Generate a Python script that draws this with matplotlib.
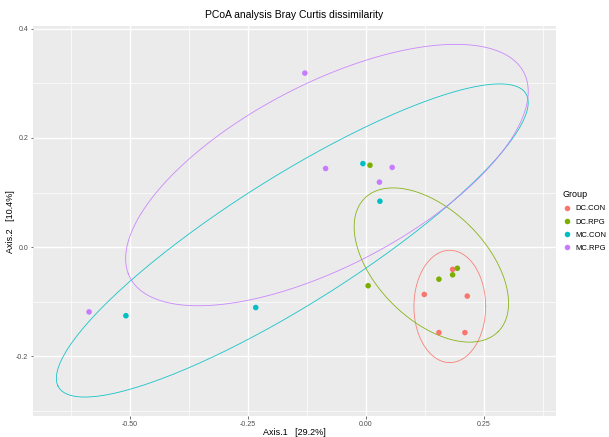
import numpy as np
import matplotlib
matplotlib.use("Agg")
import matplotlib.pyplot as plt
from matplotlib.lines import Line2D

plt.rcParams['font.family'] = ['Liberation Sans', 'DejaVu Sans']

# PCoA coordinates
groups = ["DC.CON", "DC.RPG", "MC.CON", "MC.RPG"]
colors = ["#F8766D", "#7CAE00", "#00BFC4", "#C77CFF"]

dc_con_x = [0.184, 0.124, 0.215, 0.155, 0.210]
dc_con_y = [-0.041, -0.087, -0.090, -0.157, -0.157]
dc_rpg_x = [0.009, 0.005, 0.194, 0.184, 0.155]
dc_rpg_y = [0.150, -0.071, -0.039, -0.051, -0.059]
mc_con_x = [-0.006, 0.030, -0.233, -0.508]
mc_con_y = [0.153, 0.084, -0.111, -0.126]
mc_rpg_x = [-0.129, -0.085, 0.056, 0.029, -0.586]
mc_rpg_y = [0.319, 0.144, 0.146, 0.119, -0.119]

xs = [dc_con_x, dc_rpg_x, mc_con_x, mc_rpg_x]
ys = [dc_con_y, dc_rpg_y, mc_con_y, mc_rpg_y]

# 95% ellipses: centre and two semi-axis vectors (data units)
ell_cx = [0.178, 0.139, -0.1556, -0.0822]
ell_cy = [-0.109, -0.033, 0.0120, 0.1320]
ell_ax = [0.076, 0.1414, -0.4964, -0.4210]
ell_ay = [0.0, -0.1223, -0.2667, -0.1805]
ell_bx = [0.0, 0.0822, -0.0573, -0.0676]
ell_by = [0.103, 0.0711, 0.1066, 0.1578]

x_ticks = [-0.50, -0.25, 0.00, 0.25]
x_labels = ["-0.50", "-0.25", "0.00", "0.25"]
y_ticks = [-0.2, 0.0, 0.2, 0.4]
y_labels = ["-0.2", "0.0", "0.2", "0.4"]

fig = plt.figure(figsize=(6.09, 4.37), dpi=100)
ax = fig.add_axes([0.054, 0.048, 0.859, 0.892])
ax.set_facecolor("#EBEBEB")

t = np.linspace(0, 2 * np.pi, 300)
for i, col in enumerate(colors):
    ex = ell_cx[i] + ell_ax[i] * np.cos(t) + ell_bx[i] * np.sin(t)
    ey = ell_cy[i] + ell_ay[i] * np.cos(t) + ell_by[i] * np.sin(t)
    ax.plot(ex, ey, color=col, lw=0.6, alpha=0.9, zorder=2)

for gx, gy, col in zip(xs, ys, colors):
    ax.scatter(gx, gy, s=16, color=col, edgecolors="none", zorder=3)

ax.set_xlim(-0.705, 0.403)
ax.set_ylim(-0.310, 0.405)
ax.set_xticks(x_ticks)
ax.set_xticklabels(x_labels)
ax.set_yticks(y_ticks)
ax.set_yticklabels(y_labels)
ax.set_xticks([-0.625, -0.375, -0.125, 0.125, 0.375], minor=True)
ax.set_yticks([-0.3, -0.1, 0.1, 0.3], minor=True)
ax.grid(which="major", color="white", lw=1.0)
ax.grid(which="minor", color="white", lw=0.5)
ax.set_axisbelow(True)
for s in ax.spines.values():
    s.set_visible(False)
ax.tick_params(which="major", length=1.8, width=0.5, color="#333333",
               labelsize=5, labelcolor="#4D4D4D", pad=1.5)
ax.tick_params(which="minor", length=0)

ax.set_xlabel("Axis.1   [29.2%]", fontsize=6.5, labelpad=0)
ax.set_ylabel("Axis.2   [10.4%]", fontsize=6.5, labelpad=1)
ax.set_title("PCoA analysis Bray Curtis dissimilarity", fontsize=7.5, pad=6)

handles = [Line2D([], [], marker="o", ls="none", color=c, markersize=4,
                  markeredgewidth=0) for c in colors]
leg = fig.legend(handles, groups, title="Group", loc="upper left",
                 bbox_to_anchor=(0.913, 0.580), frameon=False,
                 fontsize=5.5, title_fontsize=6.5, handletextpad=0.4,
                 labelspacing=0.75, handlelength=1.2)
leg._legend_box.align = "left"

fig.savefig("out.png", dpi=100)
